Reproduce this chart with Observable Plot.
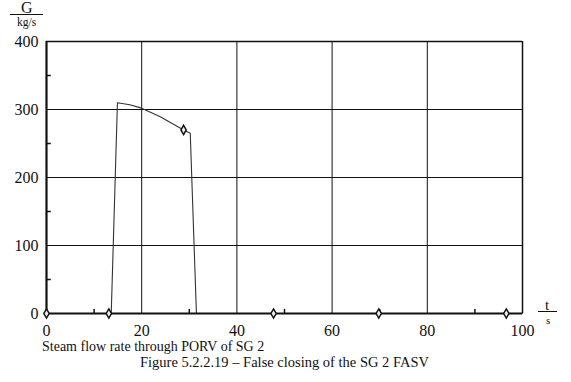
<!DOCTYPE html>
<html>
<head>
<meta charset="utf-8">
<script src="https://cdn.jsdelivr.net/npm/d3@7"></script>
<script src="https://cdn.jsdelivr.net/npm/@observablehq/plot@0.6"></script>
<style>
  body { margin: 0; background: #fff; }
  #wrap { position: relative; width: 571px; height: 382px; overflow: hidden; font-family: "Liberation Serif", "DejaVu Serif", serif; color: #111; }
  #chart { position: absolute; left: 0; top: 0; }
  #chart svg text { font-family: "Liberation Serif", serif; }
  .abs { position: absolute; white-space: nowrap; line-height: 1; }
</style>
</head>
<body>
<div id="wrap">
  <div id="chart"></div>
  <div class="abs" style="left:21px; top:0px; font-size:16px;">G</div>
  <div class="abs" style="left:10px; top:14px; width:33px; height:0; border-top:1px solid #111;"></div>
  <div class="abs" style="left:17px; top:17px; font-size:11.5px;">kg/s</div>
  <div class="abs" style="left:545px; top:298px; font-size:15px;">t</div>
  <div class="abs" style="left:538px; top:311px; width:19px; height:0; border-top:1px solid #111;"></div>
  <div class="abs" style="left:546px; top:315px; font-size:11px;">s</div>
  <div class="abs" id="cap1" style="left:42px; top:340px; font-size:14px;"></div>
  <div class="abs" id="cap2" style="left:140px; top:355px; font-size:14.5px;"></div>
</div>
<script>
const subtitle = "Steam flow rate through PORV of SG 2";
const caption = "Figure 5.2.2.19 – False closing of the SG 2 FASV";

const timeS = [0, 13.6, 14.9, 17.5, 20, 24, 28.8, 30.2, 31.5, 40, 60, 80, 100];
const flowKgS = [0, 0, 310, 307, 302, 289, 270, 265, 0, 0, 0, 0, 0];

const markerTime = [0, 13.1, 28.8, 47.7, 69.8, 96.6];
const markerFlow = [0, 0, 270, 0, 0, 0];

const xTicks = [0, 20, 40, 60, 80, 100];
const yTicks = [0, 100, 200, 300, 400];
const xMinor = [10, 30, 50, 70, 90];
const yMinor = [50, 150, 250, 350];

document.getElementById("cap1").textContent = subtitle;
document.getElementById("cap2").textContent = caption;

const line = timeS.map((t, i) => ({t, g: flowKgS[i]}));
const markers = markerTime.map((t, i) => ({t, g: markerFlow[i]}));

const chart = Plot.plot({
  width: 571,
  height: 340,
  marginLeft: 46,
  marginRight: 49,
  marginTop: 41,
  marginBottom: 27,
  style: {fontFamily: "'Liberation Serif', serif", fontSize: "16px", color: "#111", background: "transparent"},
  x: {domain: [0, 100], ticks: xTicks, tickSize: 0, tickPadding: 11, label: null},
  y: {domain: [0, 400], ticks: yTicks, tickSize: 0, tickPadding: 8, label: null},
  marks: [
    Plot.ruleX(xTicks.slice(1, -1), {stroke: "#111", strokeWidth: 1}),
    Plot.ruleY(yTicks.slice(1, -1), {stroke: "#111", strokeWidth: 1}),
    Plot.ruleX(xMinor, {y1: 0, y2: 6, stroke: "#111", strokeWidth: 1.5}),
    Plot.ruleY(yMinor, {x1: 0, x2: 1, stroke: "#111", strokeWidth: 1.5}),
    Plot.ruleY([400], {stroke: "#111", strokeWidth: 1.5}),
    Plot.ruleX([100], {stroke: "#111", strokeWidth: 1.5}),
    Plot.line(line, {x: "t", y: "g", stroke: "#333", strokeWidth: 1.1}),
    Plot.ruleY([0], {stroke: "#111", strokeWidth: 2.2}),
    Plot.ruleX([0], {stroke: "#111", strokeWidth: 2.2}),
    Plot.dot(markers, {x: "t", y: "g", symbol: "diamond", r: 2.8, fill: "#eee", stroke: "#111", strokeWidth: 1.5})
  ]
});
document.getElementById("chart").appendChild(chart);
</script>
</body>
</html>
